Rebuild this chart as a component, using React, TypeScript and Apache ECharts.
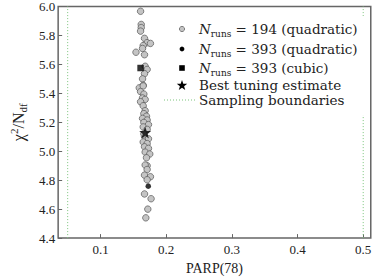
import React, { useEffect, useRef } from "react";
import * as echarts from "echarts";

// ---- data ----
const grey194X = [0.161, 0.162, 0.162, 0.161, 0.167, 0.171, 0.176, 0.165, 0.164, 0.154, 0.167, 0.168, 0.171, 0.167, 0.164, 0.165, 0.159, 0.165, 0.161, 0.166, 0.164, 0.168, 0.161, 0.165, 0.168, 0.166, 0.170, 0.164, 0.171, 0.166, 0.173, 0.165, 0.171, 0.167, 0.173, 0.165, 0.171, 0.167, 0.173, 0.168, 0.175, 0.170, 0.171, 0.168, 0.171, 0.167, 0.176, 0.171, 0.167, 0.177, 0.172, 0.169, 0.166];
const grey194Y = [5.967, 5.876, 5.854, 5.83, 5.78, 5.75, 5.745, 5.73, 5.71, 5.684, 5.667, 5.587, 5.565, 5.536, 5.50, 5.456, 5.438, 5.451, 5.412, 5.395, 5.368, 5.358, 5.342, 5.314, 5.28, 5.26, 5.242, 5.227, 5.216, 5.199, 5.184, 5.168, 5.151, 5.103, 5.086, 5.064, 5.053, 5.031, 5.02, 4.994, 4.981, 4.955, 4.90, 4.905, 4.874, 4.835, 4.824, 4.803, 4.705, 4.672, 4.60, 4.54, 5.12];
const quad393X = [0.1727];
const quad393Y = [4.759];
const cubic393X = [0.161];
const cubic393Y = [5.575];
const bestX = [0.168];
const bestY = [5.13];
const boundaries = [0.05, 0.5];
const xTicks = [0.1, 0.2, 0.3, 0.4, 0.5];
const legendLabels = [
  "{n|N}{s|runs}{t| = 194 (quadratic)}",
  "{n|N}{s|runs}{t| = 393 (quadratic)}",
  "{n|N}{s|runs}{t| = 393 (cubic)}",
  "Best tuning estimate",
  "Sampling boundaries",
];

const X_MIN = 0.0355;
const X_MAX = 0.5115;
const Y_MIN = 4.4;
const Y_MAX = 6.0;

const SERIF = "'Liberation Serif', 'DejaVu Serif', serif";
const LSERIF = "'DejaVu Serif', serif";
const GREEN = "#7cc47c";

function starPoints(cx: number, cy: number, r: number): number[][] {
  const pts: number[][] = [];
  const inner = r * 0.4;
  for (let i = 0; i < 10; i++) {
    const a = -Math.PI / 2 + (i * Math.PI) / 5;
    const rr = i % 2 === 0 ? r : inner;
    pts.push([cx + rr * Math.cos(a), cy + rr * Math.sin(a)]);
  }
  return pts;
}
const starPath =
  "path://" +
  starPoints(10, 10, 10)
    .map((p, i) => (i === 0 ? "M" : "L") + p[0].toFixed(3) + "," + p[1].toFixed(3))
    .join(" ") +
  " Z";

const zip = (xs: number[], ys: number[]) => xs.map((x, i) => [x, ys[i]]);

export default function App() {
  const ref = useRef<HTMLDivElement>(null);
  useEffect(() => {
    if (!ref.current) return;
    const chart = echarts.init(ref.current, null, { renderer: "svg" });
    const legendX = 182;
    const textX = 199;
    const rows = [29, 49, 68, 85, 100];
    const richStyles = {
      n: { fontFamily: LSERIF, fontStyle: "italic", fontSize: 13.5, lineHeight: 18, fill: "#222" },
      s: { fontFamily: LSERIF, fontSize: 9, lineHeight: 9, verticalAlign: "bottom", fill: "#222" },
      t: { fontFamily: LSERIF, fontSize: 13.5, lineHeight: 18, fill: "#222" },
    };
    const legendGraphics: any[] = [
      { type: "rect", z: 10, shape: { x: 158, y: 16, width: 210, height: 99 }, style: { fill: "#fff" } },
      { type: "circle", z: 11, shape: { cx: legendX, cy: rows[0], r: 2.6 }, style: { fill: "#c4c4c4", stroke: "#555", lineWidth: 0.7 } },
      { type: "circle", z: 11, shape: { cx: legendX, cy: rows[1], r: 2.4 }, style: { fill: "#000" } },
      { type: "rect", z: 11, shape: { x: legendX - 2.8, y: rows[2] - 2.8, width: 5.6, height: 5.6 }, style: { fill: "#000" } },
      { type: "polygon", z: 11, shape: { points: starPoints(legendX, rows[3] + 0.5, 5.5) }, style: { fill: "#000" } },
      { type: "line", z: 11, shape: { x1: 164, y1: rows[4], x2: 197, y2: rows[4] }, style: { stroke: GREEN, lineWidth: 1, lineDash: [1, 2] } },
    ];
    legendLabels.forEach((txt, i) => {
      legendGraphics.push({
        type: "text",
        z: 11,
        x: textX,
        y: rows[i],
        style: {
          text: txt,
          fontFamily: LSERIF,
          fontSize: 13.5,
          fill: "#222",
          verticalAlign: "middle",
          align: "left",
          rich: richStyles,
        },
      });
    });

    chart.setOption({
      animation: false,
      grid: { left: 44, right: 3, top: 5, bottom: 30, show: true, borderColor: "#666", borderWidth: 1.5, containLabel: false },
      xAxis: {
        type: "value",
        min: X_MIN,
        max: X_MAX,
        name: "PARP(78)",
        nameLocation: "middle",
        nameGap: 15,
        nameTextStyle: { fontFamily: SERIF, fontSize: 14, color: "#222" },
        axisLine: { show: false },
        axisTick: { show: true, inside: true, length: 4, customValues: xTicks, lineStyle: { color: "#666", width: 1 } },
        axisLabel: { customValues: xTicks, margin: 5, fontFamily: SERIF, fontSize: 13, color: "#222", formatter: (v: number) => v.toFixed(1) },
        splitLine: { show: false },
      },
      yAxis: {
        type: "value",
        min: Y_MIN,
        max: Y_MAX,
        interval: 0.2,
        name: "{a|χ}{p|2}{a|/N}{b|df}",
        nameLocation: "middle",
        nameGap: 28,
        nameTextStyle: {
          fontFamily: SERIF,
          fontSize: 16,
          color: "#222",
          rich: {
            a: { fontFamily: SERIF, fontSize: 16, lineHeight: 20, color: "#222" },
            p: { fontFamily: SERIF, fontSize: 11, lineHeight: 10, verticalAlign: "top", color: "#222" },
            b: { fontFamily: SERIF, fontSize: 11, lineHeight: 10, verticalAlign: "bottom", color: "#222" },
          },
        },
        axisLine: { show: false },
        axisTick: { show: true, inside: true, length: 4, lineStyle: { color: "#666", width: 1 } },
        axisLabel: { margin: 3, fontFamily: SERIF, fontSize: 13, color: "#222", formatter: (v: number) => v.toFixed(1) },
        splitLine: { show: false },
      },
      series: [
        ...boundaries.map((b) => ({
          type: "line",
          data: [[b, Y_MIN], [b, Y_MAX]],
          symbol: "none",
          lineStyle: { color: GREEN, width: 1, type: [1, 2] },
          z: 1,
        })),
        {
          type: "scatter",
          data: zip(grey194X, grey194Y),
          symbol: "circle",
          symbolSize: 6.5,
          itemStyle: { color: "#c4c4c4", borderColor: "#555", borderWidth: 0.7, opacity: 1 },
          z: 2,
        },
        {
          type: "scatter",
          data: zip(quad393X, quad393Y),
          symbol: "circle",
          symbolSize: 5.5,
          itemStyle: { color: "#000" },
          z: 3,
        },
        {
          type: "scatter",
          data: zip(cubic393X, cubic393Y),
          symbol: "rect",
          symbolSize: 6.5,
          itemStyle: { color: "#000" },
          z: 3,
        },
        {
          type: "scatter",
          data: zip(bestX, bestY),
          symbol: starPath,
          symbolSize: 12,
          itemStyle: { color: "#000" },
          z: 4,
        },
      ],
      graphic: legendGraphics,
    });
    return () => chart.dispose();
  }, []);
  return <div ref={ref} style={{ width: 374, height: 280, position: "absolute", left: 0, top: 0 }} />;
}
